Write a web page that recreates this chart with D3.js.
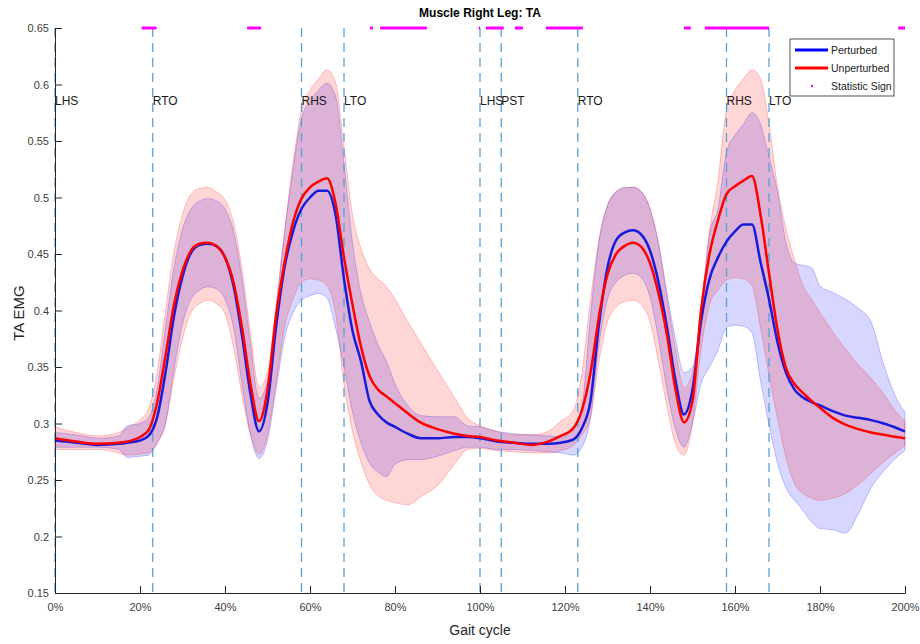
<!DOCTYPE html>
<html>
<head>
<meta charset="utf-8">
<script src="https://cdn.jsdelivr.net/npm/d3@7"></script>
<style>
  body { margin: 0; background: #fff; }
  svg { font-family: "Liberation Sans", Arial, sans-serif; }
</style>
</head>
<body>
<svg id="chart" width="920" height="644"></svg>
<script>
// gait cycle positions (%)
const gaitPct = [0,5,10,15,17,20,22,24,26,28,30,32,34,36,38,40,42,44,46,48,50,52,54,56,58,60,62,64,66,68,70,72,74,76,78,80,83,86,90,94,97,100,104,108,112,116,119,122,124,126,128,130,132,134,136,138,140,142,144,146,148,150,152,154,156,158,160,162,164,166,168,170,172,174,176,178,180,183,186,189,192,195,198,200];

const perturbedMean = [0.285,0.283,0.281,0.282,0.283,0.285,0.289,0.305,0.345,0.395,0.430,0.451,0.458,0.459,0.457,0.447,0.422,0.378,0.326,0.293,0.318,0.385,0.438,0.470,0.490,0.500,0.506,0.506,0.485,0.428,0.382,0.355,0.320,0.308,0.301,0.297,0.291,0.287,0.287,0.288,0.288,0.287,0.284,0.283,0.282,0.282,0.283,0.286,0.296,0.320,0.388,0.438,0.462,0.469,0.471,0.467,0.453,0.425,0.385,0.338,0.308,0.330,0.390,0.428,0.447,0.461,0.470,0.476,0.476,0.443,0.410,0.372,0.345,0.330,0.323,0.319,0.316,0.311,0.307,0.305,0.303,0.300,0.296,0.293];
const perturbedUpper = [0.292,0.290,0.287,0.289,0.298,0.300,0.305,0.330,0.385,0.438,0.472,0.490,0.497,0.499,0.497,0.490,0.470,0.428,0.370,0.322,0.338,0.400,0.468,0.525,0.570,0.585,0.595,0.601,0.590,0.530,0.460,0.415,0.390,0.370,0.355,0.335,0.316,0.307,0.306,0.306,0.298,0.297,0.293,0.291,0.290,0.289,0.288,0.295,0.315,0.395,0.462,0.493,0.505,0.509,0.509,0.505,0.490,0.460,0.415,0.375,0.345,0.350,0.400,0.468,0.490,0.540,0.555,0.565,0.575,0.565,0.536,0.505,0.460,0.442,0.440,0.438,0.422,0.416,0.410,0.402,0.390,0.352,0.322,0.310];
const perturbedLower = [0.279,0.279,0.279,0.277,0.270,0.271,0.272,0.283,0.300,0.348,0.388,0.410,0.418,0.421,0.419,0.410,0.385,0.335,0.290,0.269,0.285,0.330,0.375,0.398,0.409,0.413,0.415,0.411,0.385,0.350,0.310,0.283,0.265,0.257,0.253,0.264,0.268,0.268,0.271,0.276,0.279,0.279,0.277,0.277,0.276,0.275,0.274,0.272,0.279,0.305,0.370,0.410,0.425,0.431,0.433,0.429,0.412,0.375,0.330,0.295,0.279,0.300,0.335,0.350,0.365,0.385,0.387,0.386,0.380,0.338,0.299,0.265,0.243,0.232,0.223,0.213,0.207,0.206,0.203,0.220,0.243,0.258,0.270,0.276];

const unperturbedMean = [0.287,0.284,0.282,0.283,0.284,0.288,0.294,0.318,0.360,0.405,0.435,0.453,0.459,0.460,0.457,0.447,0.425,0.385,0.335,0.302,0.330,0.395,0.442,0.478,0.499,0.509,0.514,0.517,0.495,0.447,0.405,0.368,0.342,0.330,0.324,0.318,0.309,0.301,0.295,0.291,0.289,0.288,0.285,0.283,0.281,0.284,0.289,0.296,0.312,0.345,0.395,0.432,0.450,0.457,0.460,0.456,0.442,0.415,0.378,0.330,0.301,0.320,0.400,0.450,0.480,0.503,0.510,0.515,0.519,0.485,0.433,0.383,0.349,0.335,0.327,0.320,0.314,0.305,0.299,0.295,0.292,0.290,0.288,0.287];
const unperturbedUpper = [0.297,0.292,0.289,0.292,0.296,0.303,0.313,0.345,0.400,0.452,0.485,0.503,0.508,0.509,0.505,0.498,0.478,0.437,0.380,0.332,0.345,0.405,0.470,0.530,0.578,0.595,0.605,0.613,0.602,0.545,0.485,0.455,0.437,0.428,0.421,0.410,0.390,0.372,0.347,0.323,0.305,0.298,0.293,0.290,0.290,0.293,0.302,0.312,0.345,0.410,0.462,0.493,0.505,0.508,0.509,0.505,0.490,0.458,0.412,0.365,0.332,0.345,0.400,0.470,0.515,0.578,0.595,0.605,0.613,0.605,0.565,0.510,0.472,0.445,0.422,0.410,0.398,0.381,0.366,0.352,0.340,0.326,0.310,0.302];
const unperturbedLower = [0.277,0.277,0.277,0.274,0.272,0.273,0.274,0.282,0.300,0.340,0.375,0.398,0.406,0.409,0.406,0.397,0.368,0.325,0.290,0.273,0.290,0.335,0.385,0.410,0.425,0.428,0.427,0.422,0.398,0.335,0.293,0.266,0.246,0.236,0.232,0.230,0.228,0.235,0.245,0.264,0.277,0.278,0.276,0.275,0.274,0.274,0.276,0.281,0.290,0.305,0.355,0.390,0.403,0.408,0.409,0.405,0.390,0.355,0.315,0.282,0.272,0.300,0.365,0.405,0.418,0.427,0.429,0.428,0.422,0.385,0.343,0.305,0.270,0.247,0.238,0.234,0.232,0.234,0.238,0.246,0.256,0.266,0.275,0.280];

// gait events
const eventPct = [0, 23, 58, 68, 100, 105, 123, 158, 168];
const eventLabels = ["LHS", "RTO", "RHS", "LTO", "LHS", "PST", "RTO", "RHS", "LTO"];

// statistically significant stretches (%)
const sigStart = [20.4, 45.2, 74.1, 76.5, 99.7, 101.4, 108.2, 115.5, 148.0, 152.9, 198.4];
const sigEnd   = [23.9, 48.5, 74.8, 87.5, 100.0, 105.6, 110.1, 124.2, 149.6, 168.0, 200.0];

const xTicks = [0,20,40,60,80,100,120,140,160,180,200];
const yTicks = [0.15,0.2,0.25,0.3,0.35,0.4,0.45,0.5,0.55,0.6,0.65];

const svg = d3.select("#chart");
const padL = 55, padR = 905, padT = 28, padB = 593;
const axisColor = "#262626";

const x = d3.scaleLinear().domain([0, 200]).range([padL, padR]);
const y = d3.scaleLinear().domain([0.15, 0.65]).range([padB, padT]);

const rows = gaitPct.map((p, i) => ({
  p: p,
  pm: perturbedMean[i], pu: perturbedUpper[i], pl: perturbedLower[i],
  um: unperturbedMean[i], uu: unperturbedUpper[i], ul: unperturbedLower[i]
}));

const curve = d3.curveMonotoneX;

// bands
const bandP = d3.area().x(d => x(d.p)).y0(d => y(d.pl)).y1(d => y(d.pu)).curve(curve);
const bandU = d3.area().x(d => x(d.p)).y0(d => y(d.ul)).y1(d => y(d.uu)).curve(curve);

svg.append("path").datum(rows).attr("d", bandP)
  .attr("fill", "rgb(0,0,255)").attr("fill-opacity", 0.16)
  .attr("stroke", "rgb(0,0,255)").attr("stroke-opacity", 0.22).attr("stroke-width", 1);
svg.append("path").datum(rows).attr("d", bandU)
  .attr("fill", "rgb(255,0,0)").attr("fill-opacity", 0.16)
  .attr("stroke", "rgb(255,0,0)").attr("stroke-opacity", 0.22).attr("stroke-width", 1);

// event lines
svg.selectAll(".event").data(eventPct).enter()
  .append("line")
    .attr("class", "event")
    .attr("x1", d => x(d)).attr("x2", d => x(d))
    .attr("y1", padT).attr("y2", padB)
    .attr("stroke", "#5a9fd4")
    .attr("stroke-width", 1.3)
    .attr("stroke-dasharray", "9,6");

// mean lines
const lineP = d3.line().x(d => x(d.p)).y(d => y(d.pm)).curve(curve);
const lineU = d3.line().x(d => x(d.p)).y(d => y(d.um)).curve(curve);
svg.append("path").datum(rows).attr("d", lineP)
  .attr("fill", "none").attr("stroke", "#1a1adc").attr("stroke-width", 2.5);
svg.append("path").datum(rows).attr("d", lineU)
  .attr("fill", "none").attr("stroke", "#ff0000").attr("stroke-width", 2.5);

// event labels
svg.selectAll(".evlab").data(eventPct).enter()
  .append("text")
    .attr("x", d => x(d))
    .attr("y", y(0.585) + 4)
    .attr("font-size", 12)
    .attr("fill", "#1a1a1a")
    .text((d, i) => eventLabels[i]);

// significance marks
svg.selectAll(".sig").data(sigStart).enter()
  .append("line")
    .attr("x1", d => x(d))
    .attr("x2", (d, i) => x(sigEnd[i]))
    .attr("y1", y(0.65)).attr("y2", y(0.65))
    .attr("stroke", "#ff00ff")
    .attr("stroke-width", 3);

// axes
const xAxis = svg.append("g")
  .attr("transform", "translate(0," + padB + ")")
  .call(d3.axisBottom(x).tickValues(xTicks).tickFormat(d => d + "%").tickSizeInner(-7).tickSizeOuter(0).tickPadding(10));
const yAxis = svg.append("g")
  .attr("transform", "translate(" + padL + ",0)")
  .call(d3.axisLeft(y).tickValues(yTicks).tickFormat(d => String(+d.toFixed(2))).tickSizeInner(-7).tickSizeOuter(0).tickPadding(6));

[xAxis, yAxis].forEach(a => {
  a.select(".domain").attr("stroke", axisColor);
  a.selectAll(".tick line").attr("stroke", axisColor);
  a.selectAll("text").attr("fill", "#404040").attr("font-size", 11)
    .attr("font-family", "'Liberation Sans', Arial, sans-serif");
});

// title and axis labels
svg.append("text")
  .text("Muscle Right Leg: TA")
  .attr("x", 480).attr("y", 17)
  .style("text-anchor", "middle")
  .style("font-weight", "bold")
  .attr("font-size", 12)
  .attr("fill", "#000");

svg.append("text")
  .text("Gait cycle")
  .attr("x", 480).attr("y", 635)
  .style("text-anchor", "middle")
  .attr("font-size", 14)
  .attr("fill", "#262626");

svg.append("text")
  .attr("transform", "rotate(-90)")
  .attr("x", -313).attr("y", 24)
  .style("text-anchor", "middle")
  .attr("font-size", 15)
  .attr("fill", "#262626")
  .text("TA EMG");

// legend
const legendItems = [
  { name: "Perturbed", color: "#0000ff", kind: "line" },
  { name: "Unperturbed", color: "#ff0000", kind: "line" },
  { name: "Statistic Sign", color: "#ff00ff", kind: "dot" }
];
const legend = svg.append("g").attr("transform", "translate(790,39)");
legend.append("rect")
  .attr("width", 104).attr("height", 57)
  .attr("fill", "#fff").attr("stroke", "#262626").attr("stroke-width", 0.8);
legendItems.forEach((it, i) => {
  const cy = 11 + i * 18;
  if (it.kind === "line") {
    legend.append("line")
      .attr("x1", 5).attr("x2", 38).attr("y1", cy).attr("y2", cy)
      .attr("stroke", it.color).attr("stroke-width", 3);
  } else {
    legend.append("circle")
      .attr("cx", 22).attr("cy", cy).attr("r", 1.2).attr("fill", it.color);
  }
  legend.append("text")
    .attr("x", 41).attr("y", cy + 4)
    .attr("font-size", 10.5)
    .attr("fill", "#1a1a1a")
    .text(it.name);
});
</script>
</body>
</html>
